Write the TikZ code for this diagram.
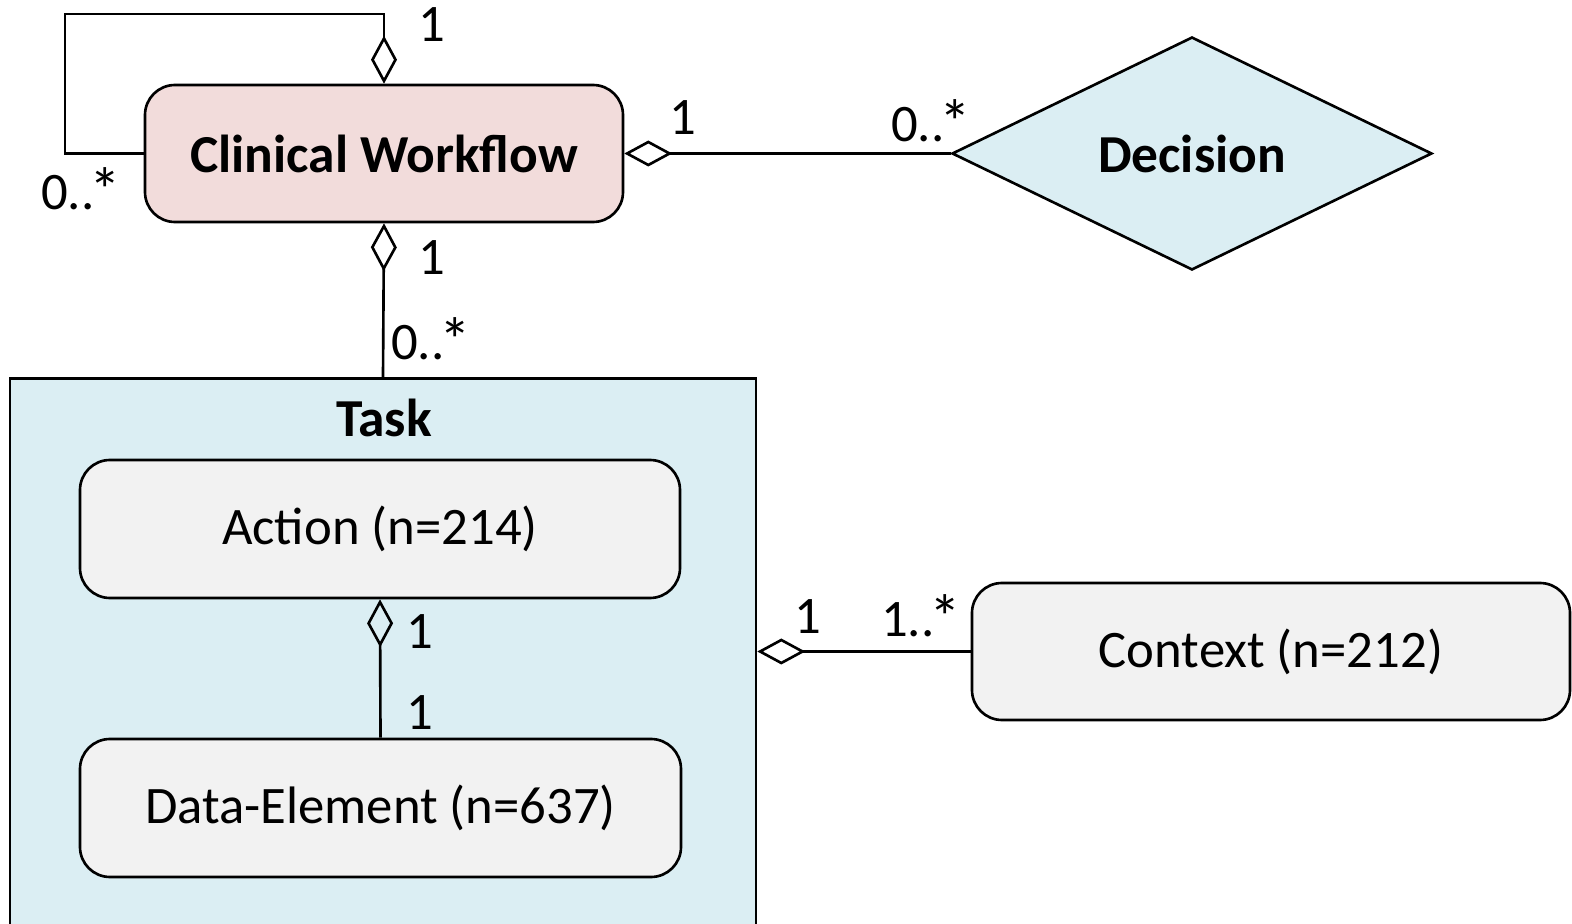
\documentclass[tikz,border=0pt]{standalone}
\usepackage{fontspec}
\setmainfont{Carlito}
\usepackage{xcolor}
\usepackage{tikz}
\usetikzlibrary{arrows.meta,positioning,shapes.geometric}
\definecolor{wfpink}{RGB}{242,220,219}
\definecolor{taskblue}{RGB}{219,238,243}
\definecolor{boxgrey}{RGB}{242,242,242}
\newcommand{\manystar}{\kern-0.1em\raisebox{-0.1ex}{\scalebox{1.2}{*}}}

\tikzset{
  every picture/.style={line width=0.75pt},
  rbox/.style={draw, rounded corners=0.3cm, fill=boxgrey, font=\fontsize{15}{18}\selectfont,
    minimum width=6cm, minimum height=1.38cm, inner sep=0pt},
  title/.style={font=\bfseries\fontsize{15.2}{18}\selectfont},
  agg/.style={{Diamond[open,length=4.8mm,width=2.6mm,line width=0.75pt]}-},
  mult/.style={font=\fontsize{15}{18}\selectfont, inner sep=0pt}
}

\begin{document}
\begin{tikzpicture}
    \clip (0,0) rectangle (15.72,-9.24);
    \useasboundingbox (0,0) rectangle (15.72,-9.24);

    \node[rbox, title, fill=wfpink, minimum width=4.78cm, minimum height=1.37cm] (cw) at (3.84,-1.535) {Clinical Workflow};
    \node[diamond, draw, title, fill=taskblue, aspect=2, minimum width=4.8cm, minimum height=2.33cm,
          inner sep=0pt] (dec) at (11.92,-1.535) {Decision};
    \node[draw, fill=taskblue, minimum width=7.46cm, minimum height=6cm, anchor=north] (task) at (3.83,-3.77) {};
    \node[title, inner sep=0pt] (tasklbl) at (3.84,-4.18) {Task};
    \node[rbox] (act) at (3.80,-5.29) {Action (n=214)};
    \node[rbox, minimum width=6.01cm] (data) at (3.805,-8.08) {Data-Element (n=637)};
    \node[rbox, minimum width=5.98cm, minimum height=1.37cm] (ctx) at (12.71,-6.515) {Context (n=212)};

    \coordinate (loop) at (0.65,-0.14);

    \draw[agg] (cw.north) |- (loop) |- (cw.west);
    \draw[agg] (cw.east) -- (dec.west);
    \draw[agg] (cw.south) -- (task.north);
    \draw[agg] (act.south) -- (data.north);
    \draw[agg] (task.east |- ctx.west) -- (ctx.west);

    \node[mult] at (4.32,-0.25) {1};
    \node[mult] at (0.81,-1.90) {0..\manystar};
    \node[mult] at (6.83,-1.18) {1};
    \node[mult] at (9.31,-1.22) {0..\manystar};
    \node[mult] at (4.32,-2.58) {1};
    \node[mult] at (4.31,-3.40) {0..\manystar};
    \node[mult] at (4.20,-6.32) {1};
    \node[mult] at (4.20,-7.13) {1};
    \node[mult] at (8.08,-6.17) {1};
    \node[mult] at (9.21,-6.17) {1..\manystar};
\end{tikzpicture}
\end{document}
